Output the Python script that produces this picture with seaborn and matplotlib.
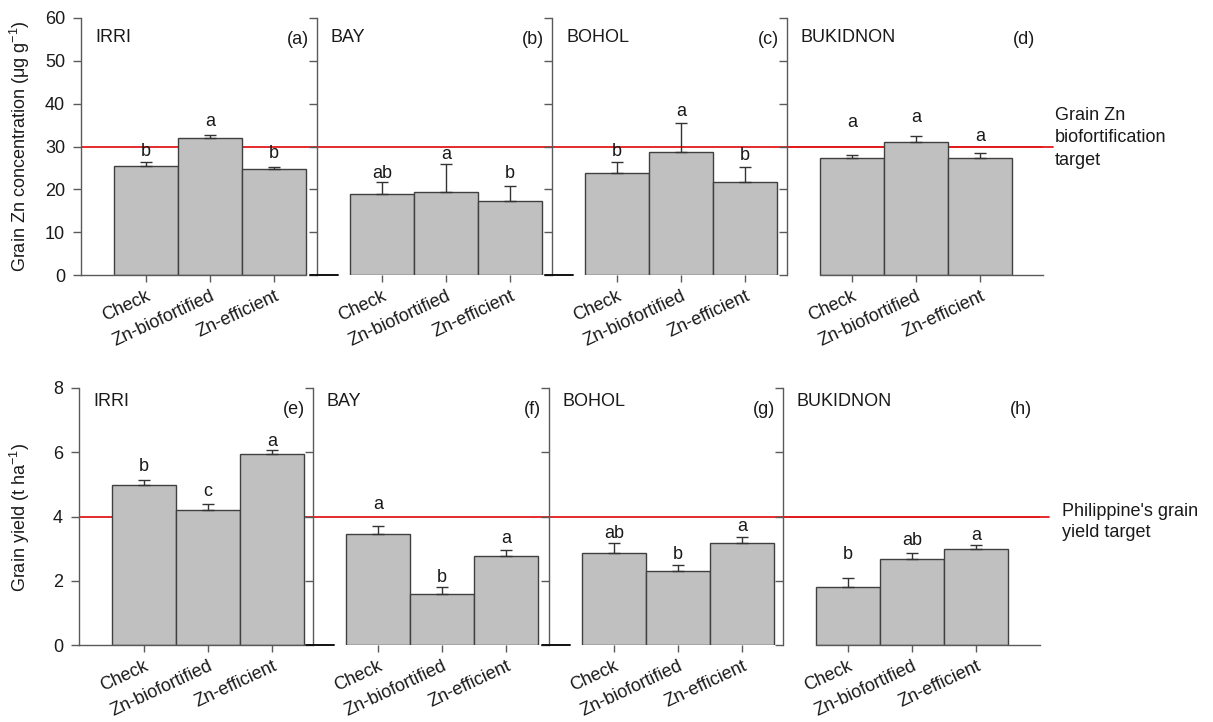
import matplotlib
matplotlib.use("Agg")
import matplotlib.pyplot as plt
import matplotlib.transforms as mtransforms
import pandas as pd
import seaborn as sns

# ---- data -------------------------------------------------------------
sites = ["IRRI", "BAY", "BOHOL", "BUKIDNON"]
varieties = ["Check", "Zn-biofortified", "Zn-efficient"]

zn_mean = [[25.5, 32.1, 24.8], [18.9, 19.4, 17.3], [23.8, 28.7, 21.6], [27.4, 31.1, 27.2]]
zn_se = [[0.9, 0.6, 0.5], [2.7, 6.6, 3.4], [2.6, 6.7, 3.5], [0.6, 1.4, 1.2]]
zn_letters = [["b", "a", "b"], ["ab", "a", "b"], ["b", "a", "b"], ["a", "a", "a"]]
zn_target = 30

yield_mean = [[4.98, 4.20, 5.95], [3.47, 1.59, 2.77], [2.87, 2.30, 3.17], [1.80, 2.69, 2.99]]
yield_se = [[0.15, 0.18, 0.12], [0.23, 0.22, 0.20], [0.31, 0.20, 0.18], [0.28, 0.17, 0.12]]
yield_letters = [["b", "c", "a"], ["a", "b", "a"], ["ab", "b", "a"], ["b", "ab", "a"]]
yield_target = 4

panel_tags_top = ["(a)", "(b)", "(c)", "(d)"]
panel_tags_bottom = ["(e)", "(f)", "(g)", "(h)"]

# heights (data units) at which the significance letters are centred
zn_letter_y = [[28.8, 35.8, 28.4], [23.7, 28.2, 23.7], [28.8, 38.1, 27.9], [35.6, 36.8, 32.3]]
yield_letter_y = [[5.55, 4.77, 6.33], [4.36, 2.11, 3.32], [3.48, 2.83, 3.68], [2.83, 3.24, 3.40]]

# ---- style ------------------------------------------------------------
sns.set_theme(style="white")
plt.rcParams["font.family"] = ["Liberation Sans", "DejaVu Sans"]
plt.rcParams["mathtext.fontset"] = "custom"
plt.rcParams["mathtext.rm"] = "Liberation Sans"
plt.rcParams["mathtext.it"] = "Liberation Sans:italic"
plt.rcParams["mathtext.default"] = "regular"

FS = 13
TEXT = "#1a1a1a"
SPINE = "#5a5a5a"
BAR = "#c0c0c0"
BAR_EDGE = "#404040"
RED = "#e31a1c"

W, H = 1213, 722
fig = plt.figure(figsize=(W / 100, H / 100), dpi=100)
fig.patch.set_facecolor("white")

PX_PER_BAR = 64.0
LEFT_PAD = 33.0


def add_row(lefts, right_end, y_top, y_bot):
    axes = []
    edges = lefts + [right_end]
    for i in range(len(lefts)):
        x0, x1 = edges[i], edges[i + 1]
        ax = fig.add_axes([x0 / W, 1 - y_bot / H, (x1 - x0) / W, (y_bot - y_top) / H])
        ax.patch.set_alpha(0)
        axes.append((ax, x1 - x0))
    return axes


def draw_row(axes, means, ses, letters, letter_y, target, ymax, ystep, tags,
             name_dy, tag_dy, line_end_px):
    n = len(axes)
    for i, ((ax, wpx), site) in enumerate(zip(axes, sites)):
        df = pd.DataFrame({"variety": varieties, "value": means[i]})
        sns.barplot(data=df, x="variety", y="value", order=varieties, color=BAR,
                    saturation=1, width=1.0, edgecolor=BAR_EDGE, linewidth=1.0,
                    errorbar=None, ax=ax, zorder=1)
        xs = list(range(len(varieties)))
        ax.errorbar(xs, means[i], yerr=[[0] * 3, ses[i]], fmt="none",
                    ecolor="#333333", elinewidth=1.0, capsize=4.3, capthick=1.0,
                    zorder=2)
        for x, lab, ly in zip(xs, letters[i], letter_y[i]):
            ax.text(x, ly, lab, ha="center", va="center", fontsize=FS, color=TEXT,
                    zorder=3)

        left = -0.5 - LEFT_PAD / PX_PER_BAR
        ax.set_xlim(left, left + wpx / PX_PER_BAR)
        ax.set_ylim(0, ymax)
        ax.set_yticks([v * ystep for v in range(int(ymax / ystep) + 1)])
        ax.axhline(target, color=RED, lw=1.3, zorder=0.5)

        ax.set_xlabel("")
        ax.set_ylabel("")
        ax.set_xticks(xs)
        ax.set_xticklabels(varieties, rotation=25, ha="right",
                           rotation_mode="anchor", fontsize=FS, color=TEXT)
        ax.tick_params(axis="x", direction="out", length=5, width=1,
                       color=SPINE, pad=4, bottom=True)
        ax.tick_params(axis="y", direction="out", length=5.5, width=1,
                       color=SPINE, labelsize=FS, labelcolor=TEXT, left=True,
                       pad=6)
        if i > 0:
            ax.tick_params(axis="y", labelleft=False)

        for s in ("top", "right"):
            ax.spines[s].set_visible(False)
        ax.spines["left"].set_color(SPINE)
        ax.spines["left"].set_linewidth(1.0)
        ax.spines["bottom"].set_color(SPINE)
        ax.spines["bottom"].set_linewidth(1.0)
        if i == 0:
            ax.spines["bottom"].set_bounds(left, 2.5)
        elif i == n - 1:
            ax.spines["bottom"].set_bounds(-0.5, left + wpx / PX_PER_BAR)
        else:
            ax.spines["bottom"].set_visible(False)
            # short dark baseline stub at the start of the inner panels
            ax.axhline(0, xmin=-7 / wpx, xmax=21 / wpx, color="#111111",
                       lw=1.4, clip_on=False, zorder=3)

        # site name and panel tag
        ax.text(14 / wpx, 1 - name_dy / 257, site, transform=ax.transAxes,
                ha="left", va="center", fontsize=FS, color=TEXT)
        ax.text(1 - 8 / wpx, 1 - tag_dy / 257, tags[i], transform=ax.transAxes,
                ha="right", va="center", fontsize=FS, color=TEXT)

        if i == n - 1:
            tr = mtransforms.blended_transform_factory(ax.transAxes, ax.transData)
            ax.plot([0, line_end_px / wpx], [target, target], color=RED, lw=1.3,
                    transform=tr, clip_on=False, zorder=0.5)


top_axes = add_row([81, 317, 552, 787], 1043, 18, 275)
draw_row(top_axes, zn_mean, zn_se, zn_letters, zn_letter_y, zn_target, 60, 10,
         panel_tags_top, 19, 22, 1053 - 787)

bottom_axes = add_row([79, 313, 549, 783], 1040, 388, 645)
draw_row(bottom_axes, yield_mean, yield_se, yield_letters, yield_letter_y,
         yield_target, 8, 2, panel_tags_bottom, 14, 22, 1049 - 783)

fig.text(20 / W, 1 - 146 / H, r"Grain Zn concentration (μg g$^{-1}$)",
         rotation=90, ha="center", va="center", fontsize=FS, color=TEXT)
fig.text(20 / W, 1 - 517 / H, r"Grain yield (t ha$^{-1}$)",
         rotation=90, ha="center", va="center", fontsize=FS, color=TEXT)

fig.text(1055 / W, 1 - 138 / H, "Grain Zn\nbiofortification\ntarget",
         ha="left", va="center", fontsize=FS, color=TEXT, linespacing=1.42)
fig.text(1062 / W, 1 - 522 / H, "Philippine's grain\nyield target",
         ha="left", va="center", fontsize=FS, color=TEXT, linespacing=1.38)

fig.savefig("out.png", dpi=100, facecolor="white")
